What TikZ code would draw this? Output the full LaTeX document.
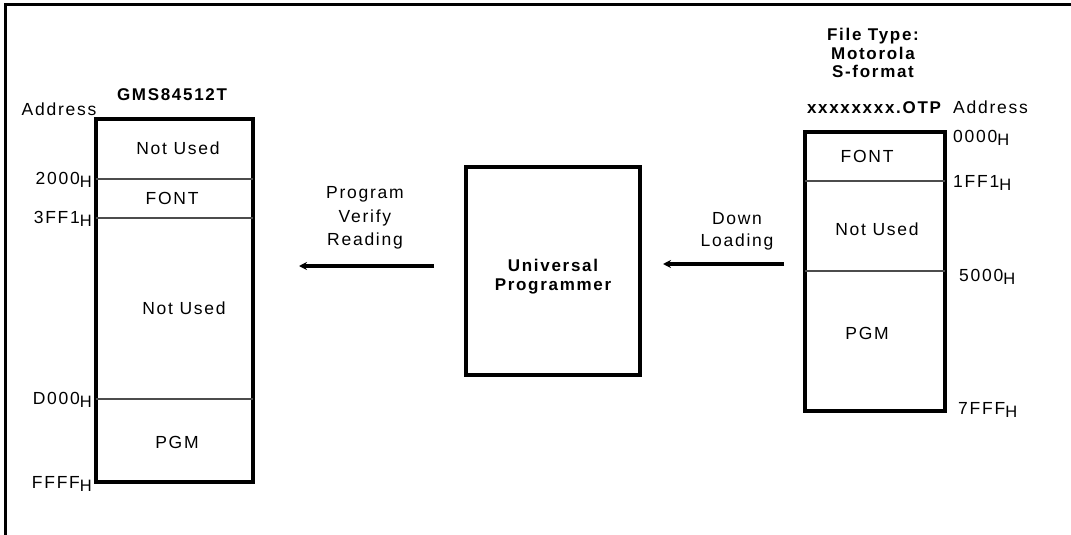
\documentclass[tikz,border=0pt]{standalone}
\usepackage{fontspec}
\setmainfont{Liberation Sans}[LetterSpace=10]
\usetikzlibrary{arrows.meta}
\newcommand{\hsub}{\raisebox{-0.3ex}{\fontsize{16.5}{16.5}\selectfont H}}
\begin{document}
\begin{tikzpicture}[x=1pt,y=-1pt,
  txt/.style={font=\fontsize{17.5}{19}\selectfont, inner sep=0pt},
  btxt/.style={font=\fontsize{17}{19}\selectfont\bfseries, inner sep=0pt, align=center},
  memline/.style={line width=1.5pt, draw=black!70},
  membox/.style={line width=3.3pt, draw=black},
  arr/.style={line width=3.3pt, -{Stealth[length=8pt,width=8pt]}}]
\useasboundingbox (0,0) rectangle (1071,535);
% frame
\draw[line width=3pt] (5,535) -- (5,5) -- (1071,5);

% left memory map
\draw[membox] (96,119) rectangle (253,482);
\coordinate (l1a) at (96,179); \coordinate (l1b) at (253,179);
\coordinate (l2a) at (96,218); \coordinate (l2b) at (253,218);
\coordinate (l3a) at (96,399); \coordinate (l3b) at (253,399);
\draw[memline] (l1a) -- (l1b);
\draw[memline] (l2a) -- (l2b);
\draw[memline] (l3a) -- (l3b);
\node[btxt] (gms) at (172,95) {GMS84512T};
\node[txt] (addrL) at (59,109) {Address};
\node[txt] (nu1) at (178,148) {Not Used};
\node[txt] (font1) at (172,198) {FONT};
\node[txt] (nu2) at (184,308) {Not Used};
\node[txt] (pgm1) at (177,442) {PGM};
\node[txt,anchor=east] (a2000) at (92,180) {2000\hsub};
\node[txt,anchor=east] (a3ff1) at (92,219) {3FF1\hsub};
\node[txt,anchor=east] (ad000) at (92,400) {D000\hsub};
\node[txt,anchor=east] (affff) at (92,484) {FFFF\hsub};

% center
\node[draw, line width=3.3pt, minimum width=174pt, minimum height=208pt, inner sep=0pt] (up) at (553,271) {};
\node[btxt] (uptxt) at (553,277) {Universal\\Programmer};
\coordinate (la) at (434,266); \coordinate (lb) at (299,266);
\draw[arr] (la) -- (lb);
\node[txt,align=center,font=\fontsize{17.5}{23.5}\selectfont] (pvr) at (365,218) {Program\\Verify\\Reading};
\coordinate (ra) at (784,264); \coordinate (rb) at (663,264);
\draw[arr] (ra) -- (rb);
\node[txt,align=center,font=\fontsize{17.5}{22}\selectfont] (dl) at (737,231) {Down\\Loading};

% right memory map
\draw[membox] (805,132) rectangle (945,411);
\coordinate (r1a) at (805,181); \coordinate (r1b) at (945,181);
\coordinate (r2a) at (805,271); \coordinate (r2b) at (945,271);
\draw[memline] (r1a) -- (r1b);
\draw[memline] (r2a) -- (r2b);
\node[btxt,font=\fontsize{17}{18.5}\selectfont\bfseries] (ft) at (873,53) {File Type:\\Motorola\\S-format};
\node[btxt] (otp) at (874,108) {xxxxxxxx.OTP};
\node[txt,anchor=west] (addrR) at (953,107) {Address};
\node[txt] (font2) at (867,156) {FONT};
\node[txt] (nu3) at (877,229) {Not Used};
\node[txt] (pgm2) at (867,333) {PGM};
\node[txt,anchor=west] (b0000) at (953,138) {0000\hsub};
\node[txt,anchor=west] (b1ff1) at (953,183) {1FF1\hsub};
\node[txt,anchor=west] (b5000) at (959,277) {5000\hsub};
\node[txt,anchor=west] (b7fff) at (958,410) {7FFF\hsub};
\end{tikzpicture}
\end{document}
